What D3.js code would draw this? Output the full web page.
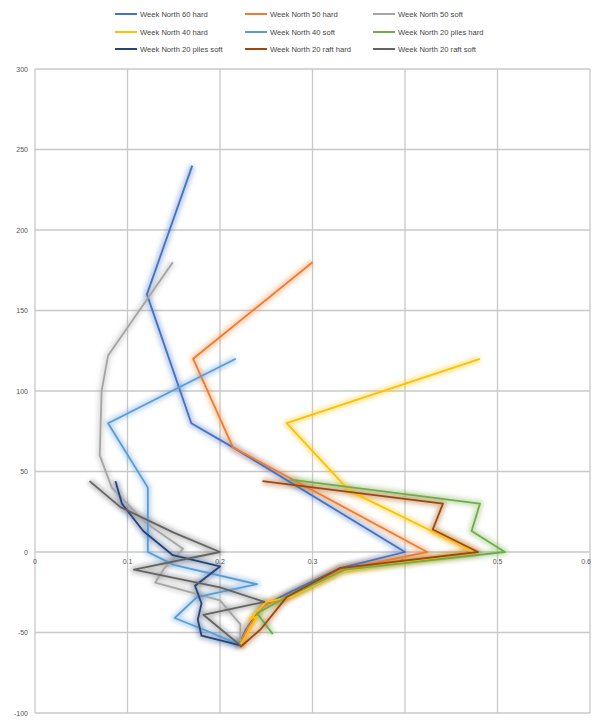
<!DOCTYPE html>
<html><head><meta charset="utf-8">
<script src="https://cdn.jsdelivr.net/npm/d3@7"></script>
<style>body{margin:0;background:#fff}svg{display:block}</style>
</head><body>
<svg id="c" width="592" height="720"></svg>
<script>
const seriesNames = [
  "Week North 60 hard","Week North 50 hard","Week North 50 soft",
  "Week North 40 hard","Week North 40 soft","Week North 20 piles hard",
  "Week North 20 piles soft","Week North 20 raft hard","Week North 20 raft soft"
];
const seriesColors = ["#4472C4","#ED7D31","#A5A5A5","#FFC000","#5B9BD5","#70AD47","#264478","#9E480E","#636363"];
// [x, y] values per series
const s60hard = [[0.170,240],[0.121,160],[0.169,80],[0.214,65],[0.400,0],[0.330,-10],[0.272,-26],[0.245,-34],[0.228,-48],[0.220,-58]];
const s50hard = [[0.300,180],[0.171,120],[0.214,65],[0.424,0],[0.332,-11],[0.275,-27],[0.248,-33],[0.230,-47],[0.220,-59]];
const s50soft = [[0.149,180],[0.079,122],[0.072,100],[0.070,60],[0.083,40],[0.120,18],[0.160,2],[0.140,-10],[0.130,-19],[0.200,-30],[0.222,-45],[0.222,-58]];
const s40hard = [[0.481,120],[0.272,80],[0.340,38],[0.475,0],[0.332,-12],[0.276,-28],[0.250,-31],[0.232,-42],[0.240,-40],[0.222,-58]];
const s40soft = [[0.217,120],[0.079,80],[0.122,40],[0.122,0],[0.150,-8],[0.240,-20],[0.175,-28],[0.151,-41],[0.190,-50],[0.222,-58]];
const s20pilesHard = [[0.276,45],[0.481,30],[0.472,13],[0.508,0],[0.335,-11],[0.272,-28],[0.240,-38],[0.257,-51]];
const s20pilesSoft = [[0.087,44],[0.094,30],[0.117,13],[0.149,-2],[0.200,-9],[0.173,-21],[0.180,-32],[0.176,-42],[0.180,-52],[0.222,-58]];
const s20raftHard = [[0.246,44],[0.441,30],[0.430,14],[0.479,0],[0.330,-10],[0.272,-28],[0.244,-48],[0.222,-59]];
const s20raftSoft = [[0.059,44],[0.092,28],[0.150,12],[0.200,0],[0.107,-11],[0.200,-22],[0.248,-31],[0.182,-39],[0.222,-58]];
const seriesData = [s60hard,s50hard,s50soft,s40hard,s40soft,s20pilesHard,s20pilesSoft,s20raftHard,s20raftSoft];
const xTicks = [0,0.1,0.2,0.3,0.4,0.5,0.6];
const yTicks = [-100,-50,0,50,100,150,200,250,300];

const svg = d3.select("#c");
const x = d3.scaleLinear().domain([0,0.6]).range([35,590]);
const y = d3.scaleLinear().domain([-100,300]).range([713,69]);

const defs = svg.append("defs");
defs.append("filter").attr("id","glow").attr("x","-20%").attr("y","-20%").attr("width","140%").attr("height","140%")
  .append("feGaussianBlur").attr("stdDeviation",2.2);

// gridlines
const g = svg.append("g");
g.selectAll("line.h").data(yTicks).join("line")
  .attr("x1",x(0)).attr("x2",x(0.6)).attr("y1",d=>y(d)).attr("y2",d=>y(d))
  .attr("stroke","#c8c8c8").attr("stroke-width",1.3);
g.selectAll("line.v").data(xTicks).join("line")
  .attr("y1",y(-100)).attr("y2",y(300)).attr("x1",d=>x(d)).attr("x2",d=>x(d))
  .attr("stroke","#c8c8c8").attr("stroke-width",1.3);

// y labels
svg.append("g").selectAll("text").data(yTicks).join("text")
  .attr("x",28).attr("y",d=>y(d)+2.5).attr("text-anchor","end")
  .attr("font-family","Liberation Sans, Arial, sans-serif").attr("font-size",7).attr("fill","#555")
  .text(d=>d);
// x labels
svg.append("g").selectAll("text").data(xTicks).join("text")
  .attr("x",(d,i)=> i===xTicks.length-1 ? 591 : x(d))
  .attr("y",y(0)+12)
  .attr("text-anchor",(d,i)=> i===xTicks.length-1 ? "end" : "middle")
  .attr("font-family","Liberation Sans, Arial, sans-serif").attr("font-size",7).attr("fill","#555")
  .text(d=>d);

const line = d3.line().x(d=>x(d[0])).y(d=>y(d[1]));
const lg = svg.append("g");
seriesData.forEach((s,i)=>{
  lg.append("path").attr("d",line(s)).attr("fill","none").attr("stroke",seriesColors[i])
    .attr("stroke-width",7).attr("stroke-opacity",0.35).attr("stroke-linejoin","round").attr("filter","url(#glow)");
});
seriesData.forEach((s,i)=>{
  lg.append("path").attr("d",line(s)).attr("fill","none").attr("stroke",seriesColors[i])
    .attr("stroke-width",1.8).attr("stroke-linejoin","round");
});

// legend
const colX = [115,245,373];
const rowY = [14,32,49];
const leg = svg.append("g");
seriesNames.forEach((n,i)=>{
  const cx = colX[i%3], cy = rowY[Math.floor(i/3)];
  leg.append("line").attr("x1",cx).attr("x2",cx+22).attr("y1",cy).attr("y2",cy)
    .attr("stroke",seriesColors[i]).attr("stroke-width",2);
  leg.append("text").attr("x",cx+25).attr("y",cy+2.8).text(n)
    .attr("font-family","Liberation Sans, Arial, sans-serif").attr("font-size",7.6).attr("fill","#444");
});
</script>
</body></html>
